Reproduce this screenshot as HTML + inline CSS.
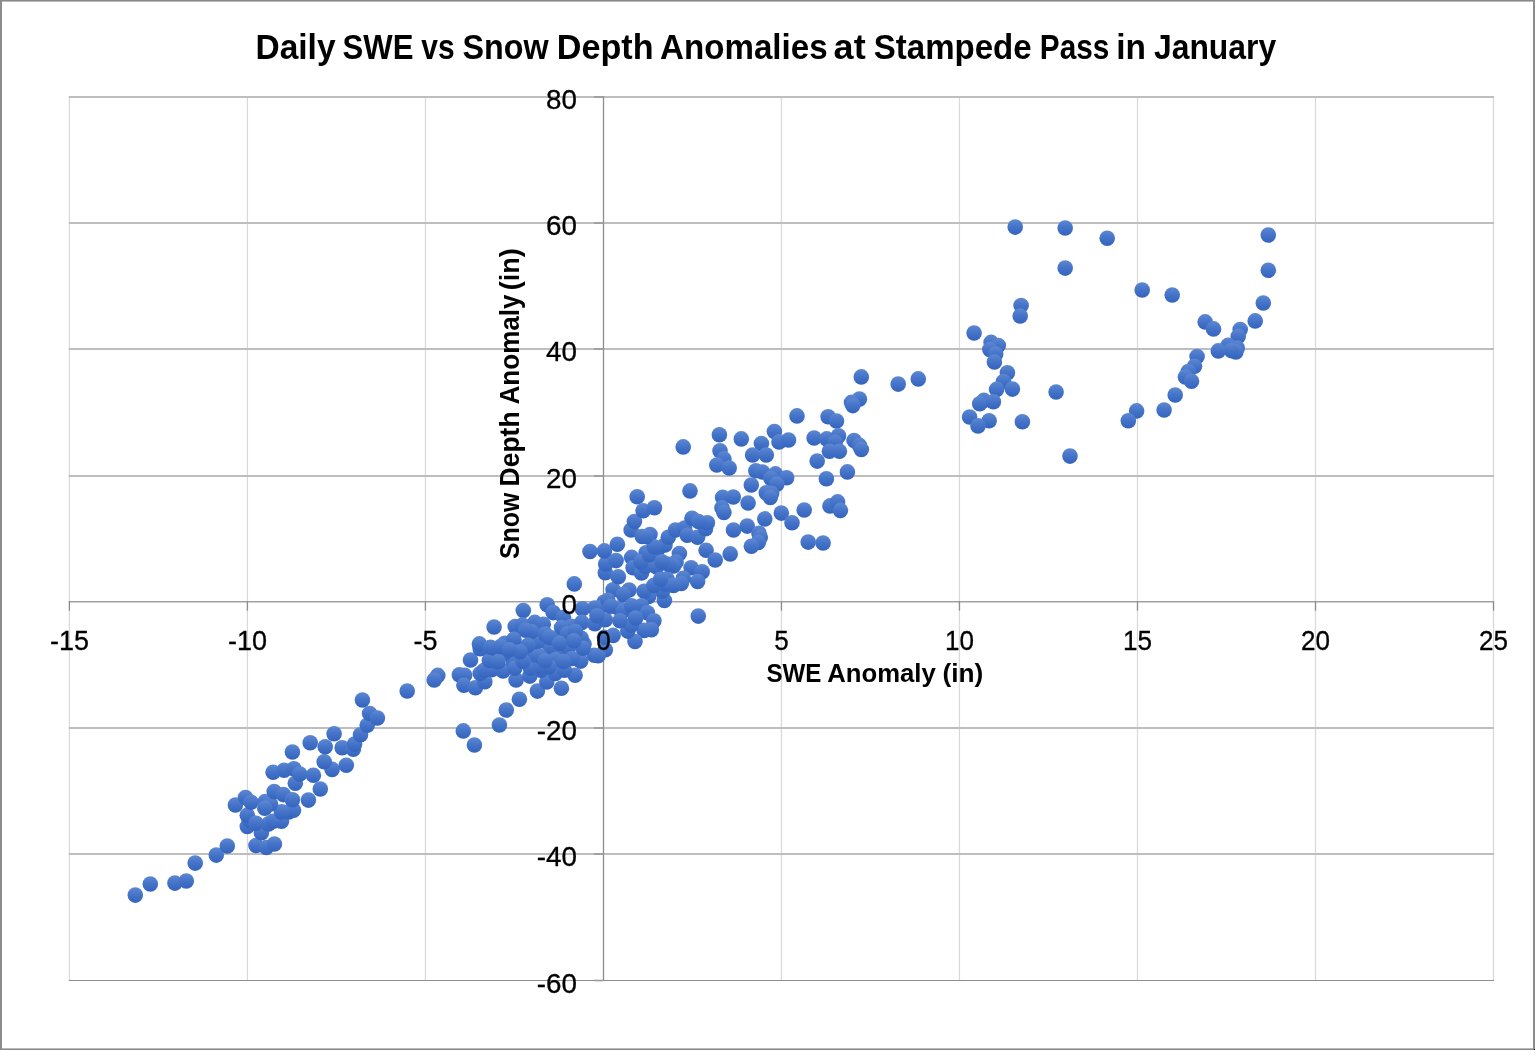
<!DOCTYPE html><html><head><meta charset="utf-8"><title>chart</title>
<style>html,body{margin:0;padding:0;background:#fff}body{width:1535px;height:1050px;overflow:hidden;position:relative}svg{will-change:transform;position:absolute;left:0;top:0;display:block}text{font-family:"Liberation Sans",sans-serif}</style></head><body>
<svg width="1535" height="1050" viewBox="0 0 1535 1050">
<defs><linearGradient id="g" x1="0" y1="0" x2="0" y2="1"><stop offset="0" stop-color="#5d88d2"/><stop offset="0.5" stop-color="#4473c8"/><stop offset="1" stop-color="#3363bd"/></linearGradient></defs>
<rect x="0" y="0" width="1535" height="1050" fill="#fff"/>
<g shape-rendering="crispEdges"><rect x="0" y="1" width="1535" height="1" fill="#bababa"/><rect x="0" y="1048" width="1535" height="1" fill="#bababa"/><rect x="0" y="0" width="1535" height="1" fill="#888"/><rect x="0" y="1049" width="1535" height="1" fill="#888"/><rect x="0" y="0" width="2" height="1050" fill="#8c8c8c"/><rect x="1533" y="0" width="2" height="1050" fill="#8c8c8c"/><rect x="1534" y="1049" width="1" height="1" fill="#000"/></g>
<line x1="69.40" y1="95.9" x2="69.40" y2="981.0" stroke="#d9d9d9" stroke-width="1.25"/>
<line x1="247.41" y1="95.9" x2="247.41" y2="981.0" stroke="#d9d9d9" stroke-width="1.25"/>
<line x1="425.43" y1="95.9" x2="425.43" y2="981.0" stroke="#d9d9d9" stroke-width="1.25"/>
<line x1="781.45" y1="95.9" x2="781.45" y2="981.0" stroke="#d9d9d9" stroke-width="1.25"/>
<line x1="959.46" y1="95.9" x2="959.46" y2="981.0" stroke="#d9d9d9" stroke-width="1.25"/>
<line x1="1137.48" y1="95.9" x2="1137.48" y2="981.0" stroke="#d9d9d9" stroke-width="1.25"/>
<line x1="1315.49" y1="95.9" x2="1315.49" y2="981.0" stroke="#d9d9d9" stroke-width="1.25"/>
<line x1="1493.50" y1="95.9" x2="1493.50" y2="981.0" stroke="#d9d9d9" stroke-width="1.25"/>
<line x1="68.8" y1="97.0" x2="1494.0" y2="97.0" stroke="#bebebe" stroke-width="2"/>
<line x1="68.8" y1="223.0" x2="1494.0" y2="223.0" stroke="#bebebe" stroke-width="2"/>
<line x1="68.8" y1="349.0" x2="1494.0" y2="349.0" stroke="#bebebe" stroke-width="2"/>
<line x1="68.8" y1="476.0" x2="1494.0" y2="476.0" stroke="#bebebe" stroke-width="2"/>
<line x1="68.8" y1="728.0" x2="1494.0" y2="728.0" stroke="#bebebe" stroke-width="2"/>
<line x1="68.8" y1="854.0" x2="1494.0" y2="854.0" stroke="#bebebe" stroke-width="2"/>
<line x1="68.8" y1="980.5" x2="1494.0" y2="980.5" stroke="#8f8f8f" stroke-width="1.1"/>
<line x1="68.8" y1="601.7" x2="1494.0" y2="601.7" stroke="#a2a2a2" stroke-width="1.4"/>
<line x1="603.5" y1="96.2" x2="603.5" y2="981.0" stroke="#8c8c8c" stroke-width="1.3"/>
<line x1="69.40" y1="601.2" x2="69.40" y2="610.7" stroke="#8e8e8e" stroke-width="1.3"/>
<line x1="247.41" y1="601.2" x2="247.41" y2="610.7" stroke="#8e8e8e" stroke-width="1.3"/>
<line x1="425.43" y1="601.2" x2="425.43" y2="610.7" stroke="#8e8e8e" stroke-width="1.3"/>
<line x1="603.44" y1="601.2" x2="603.44" y2="610.7" stroke="#8e8e8e" stroke-width="1.3"/>
<line x1="781.45" y1="601.2" x2="781.45" y2="610.7" stroke="#8e8e8e" stroke-width="1.3"/>
<line x1="959.46" y1="601.2" x2="959.46" y2="610.7" stroke="#8e8e8e" stroke-width="1.3"/>
<line x1="1137.48" y1="601.2" x2="1137.48" y2="610.7" stroke="#8e8e8e" stroke-width="1.3"/>
<line x1="1315.49" y1="601.2" x2="1315.49" y2="610.7" stroke="#8e8e8e" stroke-width="1.3"/>
<line x1="1493.50" y1="601.2" x2="1493.50" y2="610.7" stroke="#8e8e8e" stroke-width="1.3"/>
<line x1="594.0" y1="97.0" x2="603.6" y2="97.0" stroke="#9a9a9a" stroke-width="1.6"/>
<line x1="594.0" y1="223.0" x2="603.6" y2="223.0" stroke="#9a9a9a" stroke-width="1.6"/>
<line x1="594.0" y1="349.0" x2="603.6" y2="349.0" stroke="#9a9a9a" stroke-width="1.6"/>
<line x1="594.0" y1="476.0" x2="603.6" y2="476.0" stroke="#9a9a9a" stroke-width="1.6"/>
<line x1="594.0" y1="728.0" x2="603.6" y2="728.0" stroke="#9a9a9a" stroke-width="1.6"/>
<line x1="594.0" y1="854.0" x2="603.6" y2="854.0" stroke="#9a9a9a" stroke-width="1.6"/>
<line x1="594.0" y1="601.7" x2="603.6" y2="601.7" stroke="#9a9a9a" stroke-width="1.6"/>
<line x1="594.0" y1="980.5" x2="603.6" y2="980.5" stroke="#9a9a9a" stroke-width="1.6"/>
<g fill="url(#g)">
<circle cx="135.3" cy="895.1" r="7.8"/>
<circle cx="150.3" cy="884.0" r="7.8"/>
<circle cx="174.9" cy="883.1" r="7.8"/>
<circle cx="186.3" cy="881.0" r="7.8"/>
<circle cx="195.2" cy="863.1" r="7.8"/>
<circle cx="216.3" cy="855.1" r="7.8"/>
<circle cx="227.3" cy="846.0" r="7.8"/>
<circle cx="256.0" cy="845.5" r="7.8"/>
<circle cx="266.4" cy="847.5" r="7.8"/>
<circle cx="274.4" cy="844.0" r="7.8"/>
<circle cx="261.4" cy="832.7" r="7.8"/>
<circle cx="247.3" cy="826.5" r="7.8"/>
<circle cx="249.2" cy="820.2" r="7.8"/>
<circle cx="247.3" cy="815.2" r="7.8"/>
<circle cx="268.5" cy="823.9" r="7.8"/>
<circle cx="273.2" cy="821.3" r="7.8"/>
<circle cx="281.5" cy="821.3" r="7.8"/>
<circle cx="288.8" cy="811.9" r="7.8"/>
<circle cx="293.5" cy="810.3" r="7.8"/>
<circle cx="281.5" cy="811.9" r="7.8"/>
<circle cx="235.4" cy="805.0" r="7.8"/>
<circle cx="245.5" cy="797.5" r="7.8"/>
<circle cx="251.0" cy="802.2" r="7.8"/>
<circle cx="265.3" cy="801.5" r="7.8"/>
<circle cx="270.5" cy="804.0" r="7.8"/>
<circle cx="264.8" cy="808.2" r="7.8"/>
<circle cx="274.2" cy="791.6" r="7.8"/>
<circle cx="283.3" cy="794.6" r="7.8"/>
<circle cx="292.4" cy="799.8" r="7.8"/>
<circle cx="308.4" cy="800.1" r="7.8"/>
<circle cx="320.3" cy="789.0" r="7.8"/>
<circle cx="295.3" cy="783.2" r="7.8"/>
<circle cx="273.1" cy="772.2" r="7.8"/>
<circle cx="284.1" cy="770.2" r="7.8"/>
<circle cx="293.9" cy="768.7" r="7.8"/>
<circle cx="299.8" cy="774.1" r="7.8"/>
<circle cx="313.4" cy="775.2" r="7.8"/>
<circle cx="332.1" cy="769.4" r="7.8"/>
<circle cx="346.3" cy="765.2" r="7.8"/>
<circle cx="324.2" cy="761.7" r="7.8"/>
<circle cx="292.4" cy="752.0" r="7.8"/>
<circle cx="310.2" cy="742.8" r="7.8"/>
<circle cx="325.2" cy="746.7" r="7.8"/>
<circle cx="334.1" cy="733.7" r="7.8"/>
<circle cx="342.2" cy="747.8" r="7.8"/>
<circle cx="353.3" cy="749.3" r="7.8"/>
<circle cx="354.6" cy="744.1" r="7.8"/>
<circle cx="360.5" cy="734.7" r="7.8"/>
<circle cx="367.2" cy="725.2" r="7.8"/>
<circle cx="369.6" cy="713.5" r="7.8"/>
<circle cx="377.4" cy="718.0" r="7.8"/>
<circle cx="362.4" cy="700.0" r="7.8"/>
<circle cx="407.2" cy="691.0" r="7.8"/>
<circle cx="437.8" cy="675.4" r="7.8"/>
<circle cx="434.2" cy="680.0" r="7.8"/>
<circle cx="459.4" cy="674.8" r="7.8"/>
<circle cx="464.6" cy="675.2" r="7.8"/>
<circle cx="463.9" cy="685.2" r="7.8"/>
<circle cx="475.4" cy="687.8" r="7.8"/>
<circle cx="484.8" cy="681.7" r="7.8"/>
<circle cx="480.2" cy="673.5" r="7.8"/>
<circle cx="470.5" cy="660.0" r="7.8"/>
<circle cx="463.3" cy="730.9" r="7.8"/>
<circle cx="474.4" cy="745.0" r="7.8"/>
<circle cx="499.4" cy="725.0" r="7.8"/>
<circle cx="506.3" cy="710.0" r="7.8"/>
<circle cx="519.4" cy="699.2" r="7.8"/>
<circle cx="537.4" cy="691.1" r="7.8"/>
<circle cx="561.4" cy="688.2" r="7.8"/>
<circle cx="575.1" cy="675.2" r="7.8"/>
<circle cx="546.8" cy="681.9" r="7.8"/>
<circle cx="516.1" cy="680.0" r="7.8"/>
<circle cx="529.8" cy="676.1" r="7.8"/>
<circle cx="555.3" cy="673.5" r="7.8"/>
<circle cx="564.4" cy="670.2" r="7.8"/>
<circle cx="580.7" cy="661.1" r="7.8"/>
<circle cx="594.4" cy="655.2" r="7.8"/>
<circle cx="503.1" cy="670.9" r="7.8"/>
<circle cx="492.0" cy="669.6" r="7.8"/>
<circle cx="484.2" cy="670.2" r="7.8"/>
<circle cx="530.5" cy="668.2" r="7.8"/>
<circle cx="513.5" cy="661.7" r="7.8"/>
<circle cx="514.8" cy="668.2" r="7.8"/>
<circle cx="540.9" cy="670.2" r="7.8"/>
<circle cx="489.4" cy="660.4" r="7.8"/>
<circle cx="480.2" cy="648.7" r="7.8"/>
<circle cx="495.2" cy="648.7" r="7.8"/>
<circle cx="504.4" cy="653.2" r="7.8"/>
<circle cx="527.2" cy="652.6" r="7.8"/>
<circle cx="537.0" cy="656.5" r="7.8"/>
<circle cx="550.0" cy="648.0" r="7.8"/>
<circle cx="561.8" cy="653.2" r="7.8"/>
<circle cx="568.3" cy="648.0" r="7.8"/>
<circle cx="572.2" cy="658.5" r="7.8"/>
<circle cx="584.0" cy="644.1" r="7.8"/>
<circle cx="555.3" cy="659.8" r="7.8"/>
<circle cx="520.0" cy="648.0" r="7.8"/>
<circle cx="574.3" cy="583.9" r="7.8"/>
<circle cx="547.2" cy="604.8" r="7.8"/>
<circle cx="553.1" cy="612.6" r="7.8"/>
<circle cx="582.4" cy="608.7" r="7.8"/>
<circle cx="523.3" cy="610.6" r="7.8"/>
<circle cx="494.1" cy="627.0" r="7.8"/>
<circle cx="515.2" cy="626.6" r="7.8"/>
<circle cx="522.4" cy="625.0" r="7.8"/>
<circle cx="534.8" cy="622.4" r="7.8"/>
<circle cx="543.3" cy="624.3" r="7.8"/>
<circle cx="563.5" cy="617.2" r="7.8"/>
<circle cx="571.3" cy="626.3" r="7.8"/>
<circle cx="581.8" cy="622.4" r="7.8"/>
<circle cx="594.8" cy="623.7" r="7.8"/>
<circle cx="604.0" cy="602.2" r="7.8"/>
<circle cx="600.0" cy="608.0" r="7.8"/>
<circle cx="613.1" cy="589.8" r="7.8"/>
<circle cx="605.3" cy="572.8" r="7.8"/>
<circle cx="618.3" cy="576.7" r="7.8"/>
<circle cx="605.3" cy="619.8" r="7.8"/>
<circle cx="613.1" cy="635.4" r="7.8"/>
<circle cx="605.3" cy="649.8" r="7.8"/>
<circle cx="598.1" cy="655.7" r="7.8"/>
<circle cx="479.4" cy="643.9" r="7.8"/>
<circle cx="490.5" cy="647.2" r="7.8"/>
<circle cx="504.8" cy="643.3" r="7.8"/>
<circle cx="513.9" cy="639.3" r="7.8"/>
<circle cx="537.4" cy="642.0" r="7.8"/>
<circle cx="531.5" cy="631.5" r="7.8"/>
<circle cx="545.2" cy="634.1" r="7.8"/>
<circle cx="555.7" cy="638.0" r="7.8"/>
<circle cx="581.1" cy="638.0" r="7.8"/>
<circle cx="540.7" cy="666.7" r="7.8"/>
<circle cx="540.0" cy="656.3" r="7.8"/>
<circle cx="561.6" cy="627.6" r="7.8"/>
<circle cx="594.8" cy="608.0" r="7.8"/>
<circle cx="607.9" cy="600.2" r="7.8"/>
<circle cx="618.3" cy="608.0" r="7.8"/>
<circle cx="567.4" cy="634.1" r="7.8"/>
<circle cx="525.7" cy="630.2" r="7.8"/>
<circle cx="698.3" cy="616.1" r="7.8"/>
<circle cx="664.4" cy="600.4" r="7.8"/>
<circle cx="662.4" cy="591.3" r="7.8"/>
<circle cx="648.7" cy="596.5" r="7.8"/>
<circle cx="644.1" cy="591.3" r="7.8"/>
<circle cx="629.1" cy="590.0" r="7.8"/>
<circle cx="623.3" cy="594.6" r="7.8"/>
<circle cx="605.7" cy="563.9" r="7.8"/>
<circle cx="616.1" cy="560.6" r="7.8"/>
<circle cx="604.4" cy="550.9" r="7.8"/>
<circle cx="617.4" cy="544.3" r="7.8"/>
<circle cx="590.0" cy="551.5" r="7.8"/>
<circle cx="631.1" cy="530.0" r="7.8"/>
<circle cx="634.4" cy="521.5" r="7.8"/>
<circle cx="642.2" cy="536.5" r="7.8"/>
<circle cx="650.0" cy="534.6" r="7.8"/>
<circle cx="631.7" cy="557.4" r="7.8"/>
<circle cx="633.1" cy="567.8" r="7.8"/>
<circle cx="641.5" cy="573.0" r="7.8"/>
<circle cx="645.4" cy="566.5" r="7.8"/>
<circle cx="646.1" cy="552.8" r="7.8"/>
<circle cx="655.9" cy="555.4" r="7.8"/>
<circle cx="658.5" cy="548.2" r="7.8"/>
<circle cx="665.0" cy="545.0" r="7.8"/>
<circle cx="668.3" cy="537.2" r="7.8"/>
<circle cx="675.5" cy="530.0" r="7.8"/>
<circle cx="684.6" cy="528.0" r="7.8"/>
<circle cx="687.2" cy="535.2" r="7.8"/>
<circle cx="697.6" cy="537.2" r="7.8"/>
<circle cx="705.5" cy="528.7" r="7.8"/>
<circle cx="707.4" cy="522.8" r="7.8"/>
<circle cx="679.4" cy="553.5" r="7.8"/>
<circle cx="676.1" cy="561.9" r="7.8"/>
<circle cx="673.5" cy="565.9" r="7.8"/>
<circle cx="691.1" cy="567.8" r="7.8"/>
<circle cx="702.2" cy="571.7" r="7.8"/>
<circle cx="697.6" cy="581.5" r="7.8"/>
<circle cx="683.3" cy="578.3" r="7.8"/>
<circle cx="681.3" cy="583.5" r="7.8"/>
<circle cx="667.0" cy="578.9" r="7.8"/>
<circle cx="665.0" cy="584.1" r="7.8"/>
<circle cx="673.5" cy="585.4" r="7.8"/>
<circle cx="653.9" cy="585.4" r="7.8"/>
<circle cx="706.1" cy="550.2" r="7.8"/>
<circle cx="715.2" cy="560.0" r="7.8"/>
<circle cx="730.2" cy="553.9" r="7.8"/>
<circle cx="733.5" cy="530.0" r="7.8"/>
<circle cx="747.2" cy="526.1" r="7.8"/>
<circle cx="759.0" cy="533.2" r="7.8"/>
<circle cx="760.3" cy="537.2" r="7.8"/>
<circle cx="758.3" cy="542.4" r="7.8"/>
<circle cx="751.4" cy="546.3" r="7.8"/>
<circle cx="764.8" cy="518.9" r="7.8"/>
<circle cx="610.9" cy="606.3" r="7.8"/>
<circle cx="623.3" cy="610.9" r="7.8"/>
<circle cx="631.7" cy="605.7" r="7.8"/>
<circle cx="641.5" cy="605.7" r="7.8"/>
<circle cx="647.4" cy="612.8" r="7.8"/>
<circle cx="653.9" cy="620.7" r="7.8"/>
<circle cx="651.3" cy="629.8" r="7.8"/>
<circle cx="644.1" cy="630.4" r="7.8"/>
<circle cx="635.0" cy="641.5" r="7.8"/>
<circle cx="627.8" cy="631.1" r="7.8"/>
<circle cx="631.1" cy="625.2" r="7.8"/>
<circle cx="635.7" cy="618.0" r="7.8"/>
<circle cx="620.0" cy="620.7" r="7.8"/>
<circle cx="640.9" cy="561.9" r="7.8"/>
<circle cx="683.2" cy="446.9" r="7.8"/>
<circle cx="719.4" cy="434.8" r="7.8"/>
<circle cx="720.0" cy="450.8" r="7.8"/>
<circle cx="723.9" cy="458.9" r="7.8"/>
<circle cx="716.8" cy="465.0" r="7.8"/>
<circle cx="729.2" cy="468.0" r="7.8"/>
<circle cx="741.3" cy="438.9" r="7.8"/>
<circle cx="761.4" cy="443.6" r="7.8"/>
<circle cx="752.6" cy="455.0" r="7.8"/>
<circle cx="766.3" cy="455.0" r="7.8"/>
<circle cx="774.4" cy="431.5" r="7.8"/>
<circle cx="779.0" cy="441.9" r="7.8"/>
<circle cx="788.5" cy="440.0" r="7.8"/>
<circle cx="797.0" cy="415.9" r="7.8"/>
<circle cx="755.9" cy="470.7" r="7.8"/>
<circle cx="762.4" cy="472.0" r="7.8"/>
<circle cx="775.5" cy="473.9" r="7.8"/>
<circle cx="770.9" cy="478.5" r="7.8"/>
<circle cx="786.6" cy="477.8" r="7.8"/>
<circle cx="776.8" cy="484.3" r="7.8"/>
<circle cx="751.3" cy="485.0" r="7.8"/>
<circle cx="766.3" cy="492.8" r="7.8"/>
<circle cx="771.6" cy="493.5" r="7.8"/>
<circle cx="770.3" cy="497.4" r="7.8"/>
<circle cx="748.1" cy="503.0" r="7.8"/>
<circle cx="733.3" cy="497.0" r="7.8"/>
<circle cx="722.6" cy="497.4" r="7.8"/>
<circle cx="722.0" cy="507.8" r="7.8"/>
<circle cx="723.9" cy="512.4" r="7.8"/>
<circle cx="690.0" cy="490.9" r="7.8"/>
<circle cx="637.2" cy="496.7" r="7.8"/>
<circle cx="643.1" cy="510.8" r="7.8"/>
<circle cx="654.4" cy="507.8" r="7.8"/>
<circle cx="692.0" cy="518.3" r="7.8"/>
<circle cx="698.5" cy="521.5" r="7.8"/>
<circle cx="781.3" cy="513.1" r="7.8"/>
<circle cx="792.0" cy="522.8" r="7.8"/>
<circle cx="861.3" cy="376.9" r="7.8"/>
<circle cx="898.2" cy="384.1" r="7.8"/>
<circle cx="918.3" cy="378.9" r="7.8"/>
<circle cx="859.4" cy="399.1" r="7.8"/>
<circle cx="851.5" cy="402.4" r="7.8"/>
<circle cx="852.8" cy="405.6" r="7.8"/>
<circle cx="828.1" cy="416.7" r="7.8"/>
<circle cx="836.5" cy="421.0" r="7.8"/>
<circle cx="814.1" cy="438.0" r="7.8"/>
<circle cx="826.8" cy="438.9" r="7.8"/>
<circle cx="838.5" cy="435.7" r="7.8"/>
<circle cx="835.2" cy="442.2" r="7.8"/>
<circle cx="829.4" cy="451.3" r="7.8"/>
<circle cx="839.4" cy="451.3" r="7.8"/>
<circle cx="854.1" cy="440.6" r="7.8"/>
<circle cx="859.4" cy="445.4" r="7.8"/>
<circle cx="861.3" cy="449.4" r="7.8"/>
<circle cx="817.2" cy="461.1" r="7.8"/>
<circle cx="847.4" cy="471.9" r="7.8"/>
<circle cx="826.4" cy="478.7" r="7.8"/>
<circle cx="969.6" cy="417.0" r="7.8"/>
<circle cx="804.2" cy="510.0" r="7.8"/>
<circle cx="830.0" cy="505.9" r="7.8"/>
<circle cx="837.6" cy="501.9" r="7.8"/>
<circle cx="840.4" cy="510.4" r="7.8"/>
<circle cx="808.2" cy="542.1" r="7.8"/>
<circle cx="823.1" cy="543.0" r="7.8"/>
<circle cx="1021.1" cy="305.6" r="7.8"/>
<circle cx="1020.2" cy="316.0" r="7.8"/>
<circle cx="974.1" cy="333.0" r="7.8"/>
<circle cx="991.1" cy="342.4" r="7.8"/>
<circle cx="998.3" cy="345.6" r="7.8"/>
<circle cx="989.8" cy="349.6" r="7.8"/>
<circle cx="995.7" cy="354.1" r="7.8"/>
<circle cx="994.4" cy="362.0" r="7.8"/>
<circle cx="1007.4" cy="372.7" r="7.8"/>
<circle cx="1003.5" cy="381.5" r="7.8"/>
<circle cx="996.6" cy="389.4" r="7.8"/>
<circle cx="1012.4" cy="389.1" r="7.8"/>
<circle cx="983.9" cy="400.4" r="7.8"/>
<circle cx="979.7" cy="403.7" r="7.8"/>
<circle cx="993.4" cy="401.7" r="7.8"/>
<circle cx="989.1" cy="420.7" r="7.8"/>
<circle cx="978.0" cy="425.9" r="7.8"/>
<circle cx="1022.4" cy="421.7" r="7.8"/>
<circle cx="1056.1" cy="392.0" r="7.8"/>
<circle cx="1136.6" cy="410.9" r="7.8"/>
<circle cx="1128.3" cy="420.7" r="7.8"/>
<circle cx="1015.2" cy="227.1" r="7.8"/>
<circle cx="1065.2" cy="228.0" r="7.8"/>
<circle cx="1107.2" cy="238.2" r="7.8"/>
<circle cx="1065.2" cy="268.1" r="7.8"/>
<circle cx="1142.2" cy="290.0" r="7.8"/>
<circle cx="1268.3" cy="235.0" r="7.8"/>
<circle cx="1268.3" cy="270.3" r="7.8"/>
<circle cx="1263.3" cy="303.0" r="7.8"/>
<circle cx="1255.2" cy="320.9" r="7.8"/>
<circle cx="1240.2" cy="329.6" r="7.8"/>
<circle cx="1238.2" cy="336.4" r="7.8"/>
<circle cx="1205.2" cy="321.9" r="7.8"/>
<circle cx="1213.5" cy="328.9" r="7.8"/>
<circle cx="1172.2" cy="295.0" r="7.8"/>
<circle cx="1228.1" cy="345.4" r="7.8"/>
<circle cx="1237.2" cy="348.0" r="7.8"/>
<circle cx="1235.9" cy="351.9" r="7.8"/>
<circle cx="1231.3" cy="350.6" r="7.8"/>
<circle cx="1218.3" cy="350.9" r="7.8"/>
<circle cx="1197.1" cy="356.5" r="7.8"/>
<circle cx="1194.5" cy="366.3" r="7.8"/>
<circle cx="1188.3" cy="371.5" r="7.8"/>
<circle cx="1185.4" cy="377.0" r="7.8"/>
<circle cx="1191.5" cy="381.3" r="7.8"/>
<circle cx="1175.2" cy="395.0" r="7.8"/>
<circle cx="1164.1" cy="410.0" r="7.8"/>
<circle cx="1070.0" cy="456.1" r="7.8"/>
<circle cx="256.0" cy="823.2" r="7.8"/>
<circle cx="597.0" cy="615.7" r="7.8"/>
<circle cx="575.3" cy="631.5" r="7.8"/>
<circle cx="528.0" cy="645.2" r="7.8"/>
<circle cx="523.0" cy="661.2" r="7.8"/>
<circle cx="549.0" cy="666.7" r="7.8"/>
<circle cx="563.5" cy="661.5" r="7.8"/>
<circle cx="583.0" cy="648.2" r="7.8"/>
<circle cx="500.6" cy="646.5" r="7.8"/>
<circle cx="520.1" cy="651.7" r="7.8"/>
<circle cx="544.9" cy="660.8" r="7.8"/>
<circle cx="549.5" cy="637.4" r="7.8"/>
<circle cx="656.7" cy="566.9" r="7.8"/>
<circle cx="649.5" cy="554.7" r="7.8"/>
<circle cx="668.5" cy="564.2" r="7.8"/>
<circle cx="662.0" cy="561.7" r="7.8"/>
<circle cx="660.6" cy="579.3" r="7.8"/>
<circle cx="654.1" cy="546.7" r="7.8"/>
<circle cx="646.3" cy="536.6" r="7.8"/>
<circle cx="509.5" cy="649.7" r="7.8"/>
<circle cx="498.0" cy="661.7" r="7.8"/>
<circle cx="604.5" cy="637.2" r="7.8"/>
<circle cx="559.5" cy="643.4" r="7.8"/>
<circle cx="573.9" cy="640.8" r="7.8"/>
</g>
<g font-size="27" fill="#000" stroke="#000" stroke-width="0.3">
<text transform="translate(577.0,992.5) scale(1.03,1)" text-anchor="end">-60</text>
<text transform="translate(577.0,866.0) scale(1.03,1)" text-anchor="end">-40</text>
<text transform="translate(577.0,740.0) scale(1.03,1)" text-anchor="end">-20</text>
<text transform="translate(577.0,613.7) scale(1.03,1)" text-anchor="end">0</text>
<text transform="translate(577.0,488.0) scale(1.03,1)" text-anchor="end">20</text>
<text transform="translate(577.0,361.0) scale(1.03,1)" text-anchor="end">40</text>
<text transform="translate(577.0,235.0) scale(1.03,1)" text-anchor="end">60</text>
<text transform="translate(577.0,109.0) scale(1.03,1)" text-anchor="end">80</text>
<text transform="translate(69.4,650) scale(1.0,1)" text-anchor="middle">-15</text>
<text transform="translate(247.4,650) scale(1.0,1)" text-anchor="middle">-10</text>
<text transform="translate(425.4,650) scale(1.0,1)" text-anchor="middle">-5</text>
<text transform="translate(603.4,650) scale(0.965,1)" text-anchor="middle">0</text>
<text transform="translate(781.5,650) scale(0.965,1)" text-anchor="middle">5</text>
<text transform="translate(959.5,650) scale(0.965,1)" text-anchor="middle">10</text>
<text transform="translate(1137.5,650) scale(0.965,1)" text-anchor="middle">15</text>
<text transform="translate(1315.5,650) scale(0.965,1)" text-anchor="middle">20</text>
<text transform="translate(1493.5,650) scale(0.965,1)" text-anchor="middle">25</text>
</g>
<text transform="translate(255.45,58.9) scale(0.9712,1)" font-size="34.5" font-weight="bold">Daily</text>
<text transform="translate(342.57,58.9) scale(0.9024,1)" font-size="34.5" font-weight="bold">SWE</text>
<text transform="translate(421.20,58.9) scale(0.8696,1)" font-size="34.5" font-weight="bold">vs</text>
<text transform="translate(462.43,58.9) scale(0.9365,1)" font-size="34.5" font-weight="bold">Snow</text>
<text transform="translate(556.71,58.9) scale(0.9909,1)" font-size="34.5" font-weight="bold">Depth</text>
<text transform="translate(660.11,58.9) scale(0.9604,1)" font-size="34.5" font-weight="bold">Anomalies</text>
<text transform="translate(833.62,58.9) scale(1.0435,1)" font-size="34.5" font-weight="bold">at</text>
<text transform="translate(873.81,58.9) scale(0.9576,1)" font-size="34.5" font-weight="bold">Stampede</text>
<text transform="translate(1039.82,58.9) scale(0.8630,1)" font-size="34.5" font-weight="bold">Pass</text>
<text transform="translate(1116.26,58.9) scale(0.9687,1)" font-size="34.5" font-weight="bold">in</text>
<text transform="translate(1153.96,58.9) scale(0.9236,1)" font-size="34.5" font-weight="bold">January</text>
<text transform="translate(766.38,681.5) scale(0.9101,1)" font-size="26.5" font-weight="bold">SWE</text>
<text transform="translate(827.13,681.5) scale(0.9709,1)" font-size="26.5" font-weight="bold">Anomaly</text>
<text transform="translate(942.49,681.5) scale(0.9899,1)" font-size="26.5" font-weight="bold">(in)</text>
<text transform="translate(519.0,558.95) rotate(-90) scale(0.9203,1)" font-size="27" font-weight="bold">Snow</text>
<text transform="translate(519.0,486.46) rotate(-90) scale(0.9822,1)" font-size="27" font-weight="bold">Depth</text>
<text transform="translate(519.0,404.48) rotate(-90) scale(0.9653,1)" font-size="27" font-weight="bold">Anomaly</text>
<text transform="translate(519.0,290.26) rotate(-90) scale(1.0046,1)" font-size="27" font-weight="bold">(in)</text>
</svg></body></html>
